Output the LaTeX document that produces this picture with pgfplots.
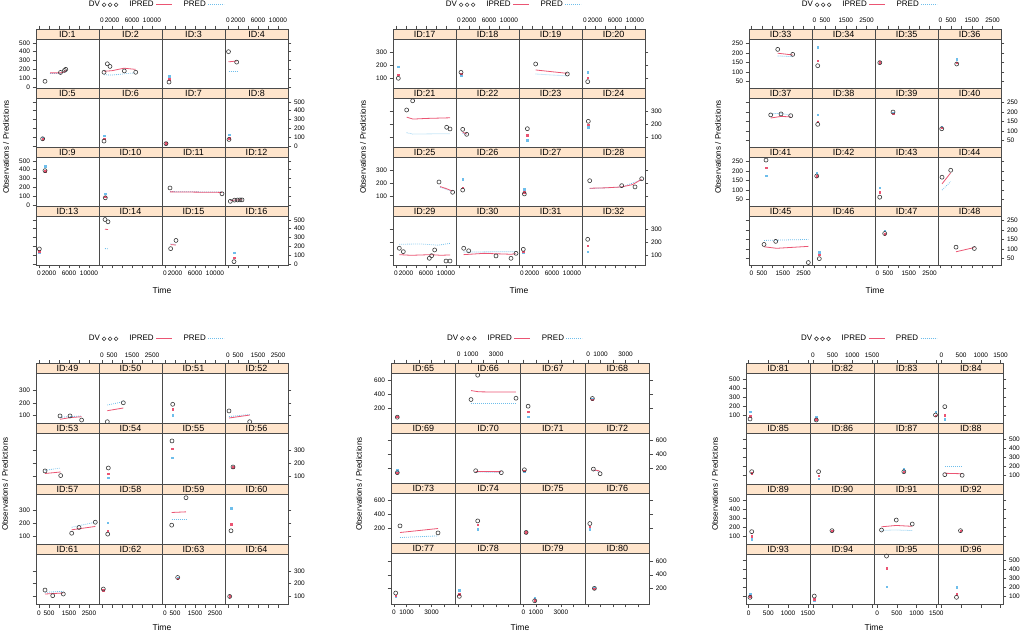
\documentclass[border=0pt]{standalone}
\usepackage{pgfplots}
\pgfplotsset{compat=1.18}
\usepackage{fontspec}
\setmainfont{Liberation Sans}
\definecolor{ipred}{RGB}{235,85,115}
\definecolor{pred}{RGB}{110,190,235}
\definecolor{dvcol}{RGB}{55,55,55}
\definecolor{stripc}{HTML}{FFE5CC}
\definecolor{framec}{RGB}{75,75,75}

\pgfplotsset{
 cellbase/.style={scale only axis, axis on top, anchor=north west,
  axis line style={framec, line width=0.7pt},
  tick style={framec, line width=0.5pt},
  tick align=outside, major tick length=3.3pt,
  tick label style={font=\fontsize{6.5}{7}\selectfont, inner sep=2.5pt},
  /pgf/number format/assume math mode=true,
  scaled x ticks=false, scaled y ticks=false},
 col1/.style={ytick pos=left, yticklabel pos=left},
 col2/.style={ytick=\empty},
 col3/.style={ytick=\empty},
 col4/.style={ytick pos=right, yticklabel pos=right},
 row1/.style={xtick pos=right, xticklabel pos=right},
 row2/.style={xtick=\empty},
 row3/.style={xtick=\empty},
 row4/.style={xtick pos=left, xticklabel pos=left},
 hx/.style={xticklabels={}},
 hy/.style={yticklabels={}},
 lab11/.style={hx}, lab21/.style={}, lab31/.style={hx}, lab41/.style={hy},
 lab12/.style={hy}, lab22/.style={}, lab32/.style={}, lab42/.style={},
 lab13/.style={}, lab23/.style={}, lab33/.style={}, lab43/.style={hy},
 lab14/.style={hy}, lab24/.style={hx}, lab34/.style={}, lab44/.style={hx},
 dv/.style={only marks, mark=o, mark size=2pt, color=dvcol, mark options={line width=0.6pt}},
 ip/.style={color=ipred, line width=0.8pt, no marks},
 pr/.style={color=pred, line width=0.8pt, dash pattern=on 0.8pt off 1.2pt, no marks},
 ipm/.style={only marks, mark=square*, mark size=0.75pt, color=ipred},
 prm/.style={only marks, mark=square*, mark size=0.75pt, color=pred},
 leg/.style={legend columns=3, legend plot pos=right,
  legend style={at={(1.9,1.41)}, anchor=center, draw=none, fill=none, inner sep=0pt,
   font=\fontsize{8}{9}\selectfont, /tikz/every even column/.append style={column sep=9pt}}},
}

\newcommand{\DV}[1]{\addplot[dv] coordinates {#1};}
\newcommand{\IP}[1]{\addplot[ip] coordinates {#1};}
\newcommand{\PR}[1]{\addplot[pr] coordinates {#1};}
\newcommand{\IPm}[1]{\addplot[ipm] coordinates {#1};}
\newcommand{\PRm}[1]{\addplot[prm] coordinates {#1};}
\newcommand{\legimgs}{%
\addlegendimage{legend image code/.code={\draw[dvcol,line width=0.6pt] (3pt,0pt) circle (1.9pt) (9pt,0pt) circle (1.9pt) (15pt,0pt) circle (1.9pt);}}
\addlegendentry{DV}
\addlegendimage{legend image code/.code={\draw[ipred,line width=0.8pt] (0pt,0pt) -- (16pt,0pt);}}
\addlegendentry{IPRED}
\addlegendimage{legend image code/.code={\draw[pred,line width=0.8pt,dash pattern=on 0.8pt off 1.2pt] (0pt,0pt) -- (16pt,0pt);}}
\addlegendentry{PRED}}

\newcommand{\cell}[5]{%
\begin{axis}[cellbase, panel, col#1, row#2, lab#1#2,
  width=\CW pt, height=\RH pt,
  at={({(\PL+(#1-1)*\CW)*1pt},{(634-\PT-(#2-1)*\RH)*1pt})}, #4]
#5
\fill[stripc] (rel axis cs:0,\SF) rectangle (rel axis cs:1,1);
\draw[framec, line width=0.7pt] (rel axis cs:0,\SF) -- (rel axis cs:1,\SF);
\node[font=\fontsize{9}{10}\selectfont, inner sep=0pt] at (rel axis cs:0.5,{(1+\SF)/2}) {ID:#3};
\end{axis}}

\newcommand{\ylab}[2]{\node[rotate=90, font=\fontsize{8}{9}\selectfont] at ({#1*1pt},{(634-#2)*1pt}) {Observations / Predictions};}
\newcommand{\xlab}[2]{\node[font=\fontsize{8.5}{9}\selectfont] at ({#1*1pt},{(634-#2)*1pt}) {Time};}

\begin{document}
\begin{tikzpicture}
\useasboundingbox (0pt,0pt) rectangle (1024pt,634pt);

%================ Panel 1 =================
\def\PL{36}\def\PT{29}\def\CW{63}\def\RH{59}\def\SF{0.8305}
\pgfplotsset{panel/.style={xmin=-600,xmax=12000,ymin=-11,ymax=657,
 xtick={0,2000,4000,6000,8000,10000}, xticklabels={0,2000,,6000,,10000}, ytick={0,100,200,300,400,500}}}
\cell{1}{1}{1}{leg}{\legimgs
 \PR{(2200,152)(4300,155)(5500,178)}\IP{(2200,160)(4300,160)(5000,170)(5500,192)}\DV{(1200,65)(4300,165)(5100,188)(5350,200)}}
\cell{2}{1}{2}{}{\PR{(400,140)(2000,135)(4400,150)(6700,160)}\IP{(400,178)(2000,185)(4400,213)(6700,200)}\DV{(400,167)(1060,263)(1600,233)(4460,182)(6740,167)}}
\cell{3}{1}{3}{}{\PRm{(800,122)}\IPm{(800,86)}\DV{(800,56)}}
\cell{4}{1}{4}{}{\PR{(100,180)(1800,180)}\IP{(100,285)(1800,295)}\DV{(100,400)(1730,282)}}
\cell{1}{2}{5}{}{\PRm{(730,86)}\IPm{(730,80)}\DV{(730,82)}}
\cell{2}{2}{6}{}{\PRm{(400,119)}\IPm{(400,82)}\DV{(400,56)}}
\cell{3}{2}{7}{}{\PRm{(200,34)}\IPm{(200,30)}\DV{(200,27)}}
\cell{4}{2}{8}{}{\PRm{(200,126)}\IPm{(200,89)}\DV{(200,74)}}
\cell{1}{3}{9}{}{\PRm{(1200,441)}\IPm{(1200,385)}\DV{(1200,389)}}
\cell{2}{3}{10}{}{\PRm{(660,130)}\IPm{(660,95)}\DV{(660,82)}}
\cell{3}{3}{11}{}{\PR{(1000,152)(11400,146)}\IP{(1000,149)(11400,143)}\DV{(1000,193)(11400,127)}}
\cell{4}{3}{12}{}{\PR{(460,50)(2800,58)}\IP{(460,48)(1300,56)(2800,60)}\DV{(460,42)(1300,55)(1900,57)(2400,58)(2800,58)}}
\cell{1}{4}{13}{}{\PRm{(70,126)}\IPm{(70,145)}\DV{(70,171)}}
\cell{2}{4}{14}{}{\PR{(600,175)(1200,172)}\IP{(600,395)(1200,390)}\DV{(600,504)(1200,478)}}
\cell{3}{4}{15}{}{\PR{(1130,228)(2200,222)}\IP{(1130,220)(2200,215)}\DV{(1130,174)(2200,267)}}
\cell{4}{4}{16}{}{\PRm{(1200,126)}\IPm{(1200,71)}\DV{(1200,27)}}
\ylab{6}{147}\xlab{162}{290}

%================ Panel 2 =================
\def\PL{393}
\pgfplotsset{panel/.style={xmin=-600,xmax=12000,ymin=25.4,ymax=479.2,
 xtick={0,2000,4000,6000,8000,10000}, xticklabels={0,2000,,6000,,10000}, ytick={100,200,300}}}
\cell{1}{1}{17}{leg}{\legimgs
 \PRm{(460,189)}\IPm{(460,128)}\DV{(460,100)}}
\cell{2}{1}{18}{}{\PRm{(400,125)}\IPm{(400,135)}\DV{(400,146)}}
\cell{3}{1}{19}{}{\PR{(2730,133)(9070,118)}\IP{(2730,164)(9070,138)}\DV{(2730,210)(9070,133)}}
\cell{4}{1}{20}{}{\PRm{(540,146)}\IPm{(540,105)}\DV{(540,74)}}
\cell{1}{2}{21}{}{\PR{(2130,135)(3400,125)(10800,128)}\IP{(2130,255)(3400,240)(6000,245)(10800,250)}\DV{(2130,310)(3330,381)(10130,177)(10800,164)}}
\cell{2}{2}{22}{}{\PR{(740,130)(1540,122)}\IP{(740,140)(1540,125)}\DV{(740,161)(1540,123)}}
\cell{3}{2}{23}{}{\PRm{(1070,79)}\IPm{(1070,118)}\DV{(1070,166)}}
\cell{4}{2}{24}{}{\PRm{(660,177)}\IPm{(660,197)}\DV{(660,223)}}
\cell{1}{3}{25}{}{\PR{(8800,170)(11300,138)}\IP{(8800,175)(10000,160)(11300,140)}\DV{(8600,210)(11330,131)}}
\cell{2}{3}{26}{}{\PRm{(740,231)}\IPm{(740,166)}\DV{(740,148)}}
\cell{3}{3}{27}{}{\PRm{(470,154)}\IPm{(470,131)}\DV{(470,118)}}
\cell{4}{3}{28}{}{\PR{(940,160)(7300,170)(11300,228)}\IP{(940,162)(4000,165)(7300,172)(9500,190)(11300,230)}\DV{(940,220)(7340,182)(10000,172)(11340,235)}}
\cell{1}{4}{29}{}{\PR{(660,185)(5000,187)(8500,178)(10800,192)}\IP{(660,105)(3000,100)(7000,105)(9000,100)(10800,103)}\DV{(660,154)(1460,128)(6660,77)(7130,97)(7730,141)(10000,56)(10800,56)}}
\cell{2}{4}{30}{}{\PR{(940,125)(11400,128)}\IP{(940,105)(5000,115)(10400,108)(11400,112)}\DV{(940,154)(1940,135)(7400,95)(10400,77)(11400,115)}}
\cell{3}{4}{31}{}{\PRm{(260,120)}\IPm{(260,128)}\DV{(260,146)}}
\cell{4}{4}{32}{}{\PRm{(540,128)}\IPm{(540,172)}\DV{(540,223)}}
\ylab{363}{147}\xlab{519}{290}

%================ Panel 3 =================
\def\PL{749}
\pgfplotsset{panel/.style={xmin=-120,xmax=2904,ymin=17.2,ymax=324,
 xtick={0,500,1000,1500,2000,2500}, xticklabels={0,500,,1500,,2500}, ytick={50,100,150,200,250}}}
\cell{1}{1}{33}{leg}{\legimgs
 \PR{(1258,184)(1978,180)}\IP{(1258,198)(1978,189)}\DV{(1258,218)(1978,192)}}
\cell{2}{1}{34}{}{\PRm{(154,229)}\IPm{(154,159)}\DV{(154,133)}}
\cell{3}{1}{35}{}{\PRm{(110,155)}\IPm{(110,152)}\DV{(110,149)}}
\cell{4}{1}{36}{}{\PRm{(778,168)}\IPm{(778,149)}\DV{(778,142)}}
\cell{1}{2}{37}{}{\PR{(922,190)(1416,192)(1882,182)}\IP{(922,168)(1416,176)(1882,174)}\DV{(922,184)(1416,189)(1882,180)}}
\cell{2}{2}{38}{}{\PRm{(154,185)}\IPm{(154,150)}\DV{(154,135)}}
\cell{3}{2}{39}{}{\PRm{(744,195)}\IPm{(744,190)}\DV{(744,199)}}
\cell{4}{2}{40}{}{\PRm{(58,122)}\IPm{(58,118)}\DV{(58,112)}}
\cell{1}{3}{41}{}{\PRm{(696,176)}\IPm{(696,216)}\DV{(696,256)}}
\cell{2}{3}{42}{}{\PRm{(106,190)}\IPm{(106,172)}\DV{(106,173)}}
\cell{3}{3}{43}{}{\PRm{(106,113)}\IPm{(106,90)}\DV{(106,63)}}
\cell{4}{3}{44}{}{\PR{(72,100)(490,144)}\IP{(72,132)(490,190)}\DV{(72,167)(490,203)}}
\cell{1}{4}{45}{}{\PR{(600,145)(2726,150)}\IP{(600,112)(1200,104)(2726,114)}\DV{(600,124)(1162,140)(2726,30)}}
\cell{2}{4}{46}{}{\PRm{(230,85)}\IPm{(230,71)}\DV{(230,50)}}
\cell{3}{4}{47}{}{\PRm{(346,196)}\IPm{(346,178)}\DV{(346,181)}}
\cell{4}{4}{48}{}{\IP{(744,86)(1622,108)}\DV{(744,110)(1622,103)}}
\ylab{718}{147}\xlab{875}{290}

%================ Panel 4 =================
\def\PL{36}\def\PT{363.5}\def\CW{63}\def\RH{60.25}\def\SF{0.834}
\pgfplotsset{panel/.style={xmin=-150,xmax=3000,ymin=37.2,ymax=507.2,
 xtick={0,500,1000,1500,2000,2500}, xticklabels={0,500,,1500,,2500}, ytick={100,200,300}}}
\cell{1}{1}{49}{leg}{\legimgs
 \PR{(1050,88)(2130,98)}\IP{(1050,72)(1550,85)(2130,92)}\DV{(1050,98)(1550,98)(2130,66)}}
\cell{2}{1}{50}{}{\PR{(265,183)(1065,209)}\IP{(265,139)(1065,160)}\DV{(265,53)(1065,201)}}
\cell{3}{1}{51}{}{\PRm{(385,105)}\IPm{(385,150)}\DV{(385,189)}}
\cell{4}{1}{52}{}{\PR{(50,93)(1085,110)}\IP{(50,82)(1085,105)}\DV{(50,137)(1085,53)}}
\cell{1}{2}{53}{}{\PR{(300,144)(1085,162)}\IP{(300,119)(1085,131)}\DV{(300,139)(1085,103)}}
\cell{2}{2}{54}{}{\PRm{(315,88)}\IPm{(315,119)}\DV{(315,162)}}
\cell{3}{2}{55}{}{\PRm{(350,244)}\IPm{(350,314)}\DV{(350,373)}}
\cell{4}{2}{56}{}{\PRm{(250,172)}\IPm{(250,168)}\DV{(250,170)}}
\cell{1}{3}{57}{}{\PR{(1635,170)(2815,209)}\IP{(1635,150)(2815,176)}\DV{(1635,123)(2000,168)(2815,209)}}
\cell{2}{3}{58}{}{\PRm{(285,204)}\IPm{(285,144)}\DV{(285,116)}}
\cell{3}{3}{59}{}{\PR{(335,228)(1050,228)}\IP{(335,285)(1050,290)}\DV{(335,186)(1050,400)}}
\cell{4}{3}{60}{}{\PRm{(150,318)}\IPm{(150,194)}\DV{(150,142)}}
\cell{1}{4}{61}{}{\PR{(300,132)(1215,140)}\IP{(300,119)(1215,127)}\DV{(300,150)(685,106)(1215,119)}}
\cell{2}{4}{62}{}{\PRm{(65,152)}\IPm{(65,150)}\DV{(65,158)}}
\cell{3}{4}{63}{}{\PRm{(635,242)}\IPm{(635,240)}\DV{(635,248)}}
\cell{4}{4}{64}{}{\PRm{(85,104)}\IPm{(85,100)}\DV{(85,100)}}
\ylab{5}{484}\xlab{162}{627}

%================ Panel 5 =================
\def\PL{391}\def\PT{363}\def\CW{64.7}
\pgfplotsset{panel/.style={xmin=-240,xmax=4936,ymin=-24,ymax=849.6,
 xtick={0,1000,2000,3000,4000}, xticklabels={0,1000,,3000,}, ytick={200,400,600}}}
\cell{1}{1}{65}{leg}{\legimgs
 \PRm{(264,74)}\IPm{(264,70)}\DV{(264,64)}}
\cell{2}{1}{66}{}{\PR{(984,258)(4580,258)}\IP{(984,450)(1600,432)(3000,428)(4580,430)}\DV{(984,320)(1520,673)(4584,339)}}
\cell{3}{1}{67}{}{\PRm{(376,70)}\IPm{(376,146)}\DV{(376,223)}}
\cell{4}{1}{68}{}{\PRm{(344,325)}\IPm{(344,320)}\DV{(344,335)}}
\cell{1}{2}{69}{}{\PRm{(264,166)}\IPm{(264,135)}\DV{(264,133)}}
\cell{2}{2}{70}{}{\PR{(1360,142)(3400,140)}\IP{(1360,150)(3400,148)}\DV{(1360,161)(3408,133)}}
\cell{3}{2}{71}{}{\PRm{(80,155)}\IPm{(80,160)}\DV{(80,175)}}
\cell{4}{2}{72}{}{\PR{(424,168)(960,148)}\IP{(424,170)(780,165)(960,150)}\DV{(424,185)(960,118)}}
\cell{1}{3}{73}{}{\PR{(480,66)(3520,90)}\IP{(480,139)(3520,197)}\DV{(480,235)(3520,133)}}
\cell{2}{3}{74}{}{\PRm{(1520,187)}\IPm{(1520,249)}\DV{(1520,307)}}
\cell{3}{3}{75}{}{\PRm{(216,145)}\IPm{(216,140)}\DV{(216,140)}}
\cell{4}{3}{76}{}{\PRm{(136,186)}\IPm{(136,225)}\DV{(136,269)}}
\cell{1}{4}{77}{}{\PRm{(136,81)}\IPm{(136,96)}\DV{(136,135)}}
\cell{2}{4}{78}{}{\PRm{(48,178)}\IPm{(48,116)}\DV{(48,87)}}
\cell{3}{4}{79}{}{\PRm{(904,58)}\IPm{(904,30)}\DV{(904,23)}}
\cell{4}{4}{80}{}{\PRm{(504,205)}\IPm{(504,198)}\DV{(504,203)}}
\ylab{359}{484}\xlab{520}{627}

%================ Panel 6 =================
\def\PL{746}\def\PT{363.5}\def\CW{64.25}
\pgfplotsset{panel/.style={xmin=-69,xmax=1563,ymin=6.2,ymax=675,
 xtick={0,500,1000,1500}, xticklabels={0,500,1000,1500}, ytick={100,200,300,400,500}}}
\cell{1}{1}{81}{leg}{\legimgs
 \PRm{(33,140)}\IPm{(33,92)}\DV{(33,59)}}
\cell{2}{1}{82}{}{\PRm{(84,85)}\IPm{(84,59)}\DV{(84,48)}}
\cell{3}{1}{83}{}{\PRm{(1480,140)}\IPm{(1480,95)}\DV{(1480,103)}}
\cell{4}{1}{84}{}{\PRm{(84,56)}\IPm{(84,103)}\DV{(84,196)}}
\cell{1}{2}{85}{}{\PRm{(76,120)}\IPm{(76,125)}\DV{(76,143)}}
\cell{2}{2}{86}{}{\PRm{(142,63)}\IPm{(142,100)}\DV{(142,143)}}
\cell{3}{2}{87}{}{\PRm{(676,170)}\IPm{(676,145)}\DV{(676,143)}}
\cell{4}{2}{88}{}{\PR{(84,200)(525,200)}\IP{(84,125)(525,120)}\DV{(84,110)(525,103)}}
\cell{1}{3}{89}{}{\PRm{(76,64)}\IPm{(76,98)}\DV{(76,146)}}
\cell{2}{3}{90}{}{\PRm{(483,158)}\IPm{(483,155)}\DV{(483,157)}}
\cell{3}{3}{91}{}{\PR{(109,160)(483,165)(889,158)}\IP{(109,200)(483,215)(889,205)}\DV{(109,164)(483,275)(889,231)}}
\cell{4}{3}{92}{}{\PRm{(483,158)}\IPm{(483,155)}\DV{(483,157)}}
\cell{1}{4}{93}{}{\PRm{(33,122)}\IPm{(33,100)}\DV{(33,86)}}
\cell{2}{4}{94}{}{\PRm{(33,55)}\IPm{(33,67)}\DV{(33,100)}}
\cell{3}{4}{95}{}{\PRm{(236,203)}\IPm{(236,407)}\DV{(236,544)}}
\cell{4}{4}{96}{}{\PRm{(381,196)}\IPm{(381,122)}\DV{(381,86)}}
\ylab{715}{484}\xlab{874}{627}
\end{tikzpicture}
\end{document}
